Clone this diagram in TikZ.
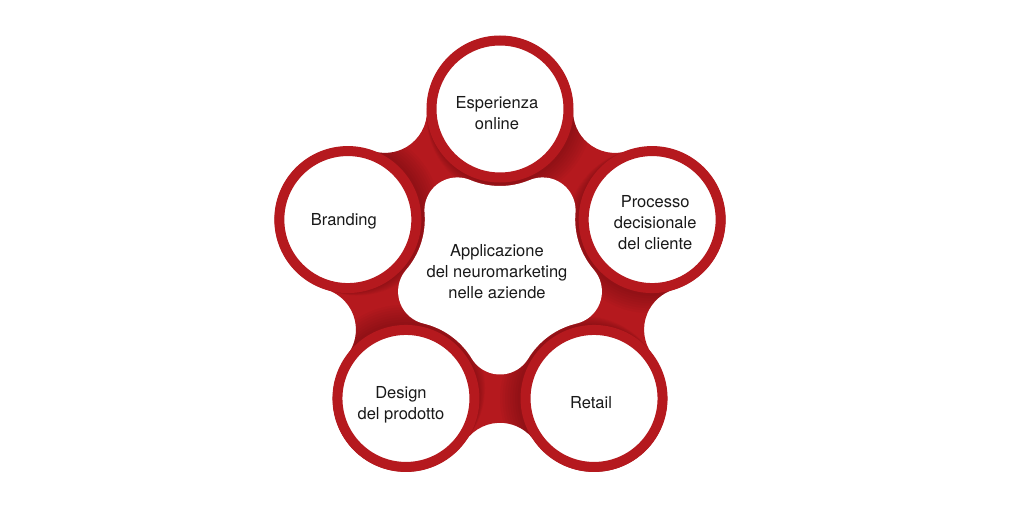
\documentclass[tikz,border=0pt]{standalone}
\usepackage{fontspec}
\setmainfont{TeX Gyre Heros}
\usetikzlibrary{calc}
\definecolor{ringred}{RGB}{181,25,30}
\definecolor{txt}{RGB}{25,25,25}
\begin{document}
\begin{tikzpicture}[x=1pt,y=1pt,
  bubble/.style={circle, draw=ringred, line width=10pt, fill=white, minimum size=137pt, inner sep=0pt},
  lbl/.style={align=center, font=\fontsize{16.5}{21}\selectfont, text=txt, inner sep=0pt},
  shade/.style={fill=black, opacity=0.025}]
\useasboundingbox (-500,-243) rectangle (524,269);
\fill[white] (-500,-243) rectangle (524,269);
\def\outerpath{($(90:160)+(-0.96:73)$) \foreach \t in {90,162,234,306,378} { arc[start angle=\t-90.96, end angle=\t+90.96, radius=73pt] arc[start angle=\t-89.04, end angle=\t-198.96, radius=42pt] } -- cycle}
\fill[ringred] \outerpath;
\begin{scope}
  \clip \outerpath;
  \foreach \t in {90,162,234,306,378} {
    \foreach \i in {1,...,8} {
      \fill[shade] ($(\t:160)+(\t-126:1+1.3*\i)$) circle[radius=73pt+1.2pt*\i];
    }
  }
\end{scope}
\fill[white] ($(90:160)+(292.78:77)$) \foreach \t in {90,162,234,306,378} { arc[start angle=\t+202.78, end angle=\t+157.22, radius=77pt] arc[start angle=\t-22.78, end angle=\t+94.78, radius=33pt] } -- cycle;
\node[bubble] (c0) at (90:160) {};
\node[bubble] (c1) at (162:160) {};
\node[bubble] (c2) at (234:160) {};
\node[bubble] (c3) at (306:160) {};
\node[bubble] (c4) at (18:160) {};
\node[lbl] (t0) at ([shift={(-3,-4)}]c0.center) {Esperienza\\online};
\node[lbl] (t1) at ([shift={(-4,-2)}]c1.center) {Branding};
\node[lbl] (t2) at ([shift={(-5,-6)}]c2.center) {Design\\del prodotto};
\node[lbl] (t3) at ([shift={(-3,-4)}]c3.center) {Retail};
\node[lbl] (t4) at ([shift={(3,-3)}]c4.center) {Processo\\decisionale\\del cliente};
\node[lbl] (hub) at (-3,-3) {Applicazione\\del neuromarketing\\nelle aziende};
\end{tikzpicture}
\end{document}
